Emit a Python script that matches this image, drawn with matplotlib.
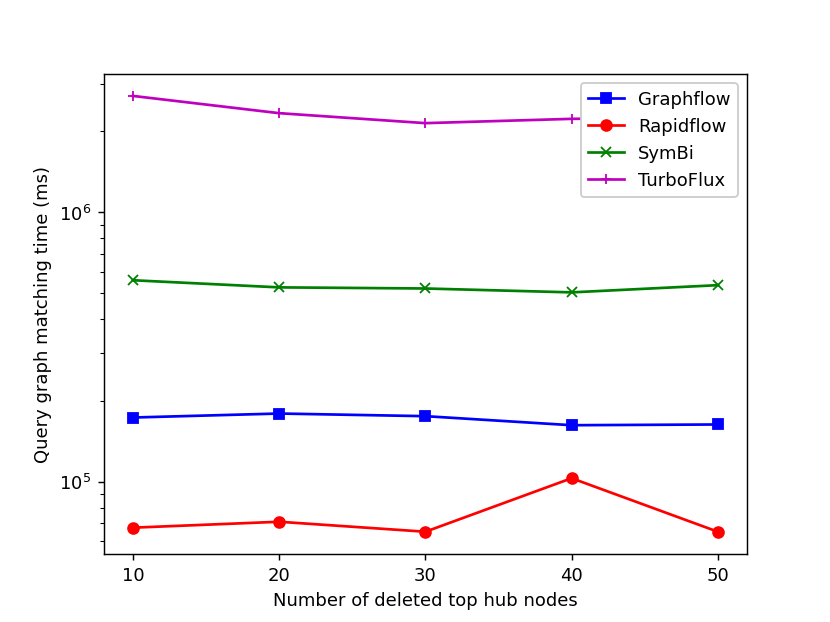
import matplotlib
matplotlib.use("Agg")
import matplotlib.pyplot as plt

x = [10, 20, 30, 40, 50]
graphflow = [1.73e5, 1.79e5, 1.75e5, 1.62e5, 1.63e5]
rapidflow = [6.75e4, 7.10e4, 6.52e4, 1.03e5, 6.52e4]
symbi = [5.59e5, 5.26e5, 5.21e5, 5.04e5, 5.36e5]
turboflux = [2.70e6, 2.33e6, 2.14e6, 2.22e6, 2.25e6]

fig, ax = plt.subplots(figsize=(6.4, 4.8), dpi=129.7)
ax.plot(x, graphflow, 'bs-', label='Graphflow')
ax.plot(x, rapidflow, 'ro-', label='Rapidflow')
ax.plot(x, symbi, 'gx-', label='SymBi')
ax.plot(x, turboflux, 'm+-', label='TurboFlux')
ax.set_yscale('log')
ax.set_xticks(x)
ax.set_xlabel('Number of deleted top hub nodes')
ax.set_ylabel('Query graph matching time (ms)')
ax.legend(loc='upper right', framealpha=1)
fig.savefig('out.png')
